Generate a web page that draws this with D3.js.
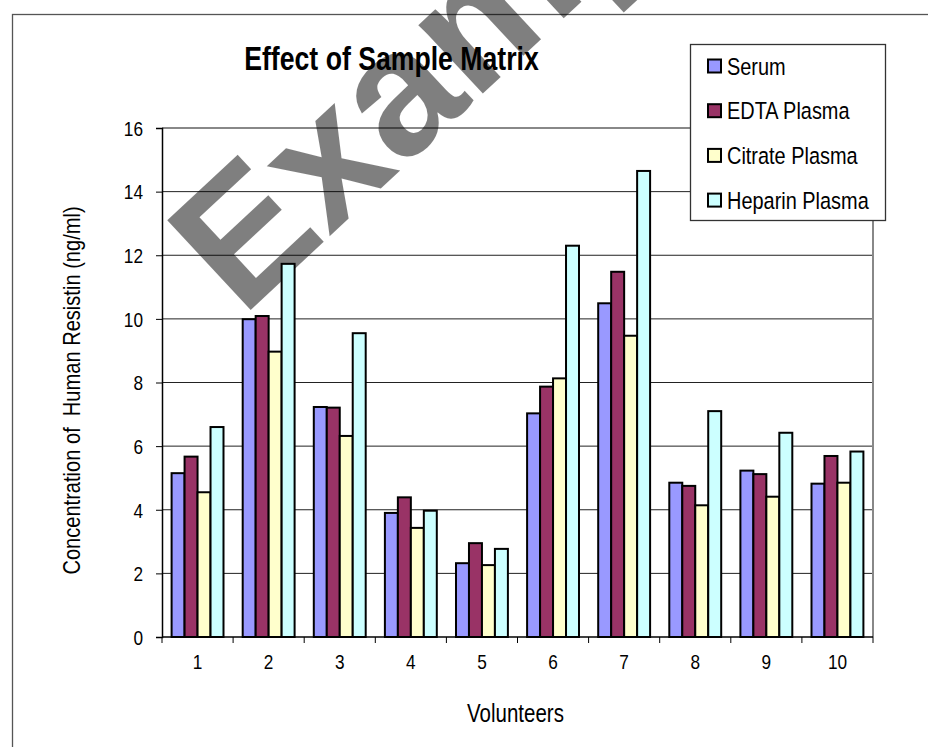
<!DOCTYPE html>
<html>
<head>
<meta charset="utf-8">
<script src="https://cdn.jsdelivr.net/npm/d3@7"></script>
<style>
  html, body { margin: 0; padding: 0; background: #fff; }
  svg { display: block; }
  text { font-family: "Liberation Sans", Arial, sans-serif; }
</style>
</head>
<body>
<svg id="chart" width="928" height="747"></svg>
<script>
// ---- data ----
const volunteers = ["1", "2", "3", "4", "5", "6", "7", "8", "9", "10"];
const seriesNames = ["Serum", "EDTA Plasma", "Citrate Plasma", "Heparin Plasma"];
const serum   = [5.15, 9.99, 7.23, 3.90, 2.32, 7.03, 10.49, 4.85, 5.23, 4.82];
const edta    = [5.67, 10.09, 7.21, 4.39, 2.95, 7.87, 11.48, 4.75, 5.12, 5.69];
const citrate = [4.55, 8.97, 6.32, 3.43, 2.26, 8.13, 9.47, 4.14, 4.41, 4.85];
const heparin = [6.60, 11.73, 9.55, 3.97, 2.77, 12.30, 14.65, 7.10, 6.42, 5.83];
const yTicks  = [0, 2, 4, 6, 8, 10, 12, 14, 16];
const colors  = ["#9999FF", "#993366", "#FFFFCC", "#CCFFFF"];

const seriesValues = [serum, edta, citrate, heparin];
const NARROW = 0.82; // emulate Arial Narrow by horizontal compression

const svg = d3.select("#chart");
const W = 928, H = 747;
const plot = { left: 162, right: 873, top: 128, bottom: 637 };

// outer chart border
svg.append("rect")
  .attr("x", 12.5).attr("y", 14.5)
  .attr("width", W + 20).attr("height", H + 20)
  .attr("fill", "#fff").attr("stroke", "#555").attr("stroke-width", 1.3);

// scales
const x = d3.scaleBand().domain(volunteers)
  .range([plot.left, plot.right]).paddingInner(0.27).paddingOuter(0.135);
const xs = d3.scaleBand().domain(seriesNames).range([0, x.bandwidth()]);
const y = d3.scaleLinear().domain([0, 16]).range([plot.bottom, plot.top]);

// gridlines
svg.append("g").selectAll("line").data(yTicks.filter(d => d > 0)).join("line")
  .attr("x1", plot.left).attr("x2", plot.right)
  .attr("y1", d => y(d)).attr("y2", d => y(d))
  .attr("stroke", d => d === 16 ? "#888" : "#222")
  .attr("stroke-width", d => d === 16 ? 2 : 1);

// right plot border
svg.append("line")
  .attr("x1", plot.right).attr("x2", plot.right)
  .attr("y1", plot.top).attr("y2", plot.bottom)
  .attr("stroke", "#888").attr("stroke-width", 2);

// watermark
svg.append("text")
  .attr("transform", "translate(242,318) rotate(-43)")
  .attr("font-weight", "bold")
  .attr("font-size", 178)
  .attr("fill", "#000").attr("fill-opacity", 0.5)
  .text("Example");

// bars
const rows = [];
volunteers.forEach((v, i) => seriesNames.forEach((s, j) => rows.push({ v, s, j, val: seriesValues[j][i] })));
svg.append("g").selectAll("rect").data(rows).join("rect")
  .attr("x", d => x(d.v) + xs(d.s))
  .attr("y", d => y(d.val))
  .attr("width", xs.bandwidth())
  .attr("height", d => y(0) - y(d.val))
  .attr("fill", d => colors[d.j])
  .attr("stroke", "#000").attr("stroke-width", 2);

// y axis
const yAxis = d3.axisLeft(y).tickValues(yTicks).tickSize(6).tickPadding(0).tickFormat(d3.format("d"));
const gy = svg.append("g").attr("transform", `translate(${plot.left},0)`).call(yAxis);
gy.select(".domain").attr("stroke", "#000").attr("stroke-width", 1.5);
gy.selectAll(".tick line").attr("stroke", "#000");
gy.selectAll(".tick text")
  .attr("x", 0).attr("dy", "0.35em")
  .attr("transform", `translate(-19,0) scale(${NARROW},1)`)
  .attr("font-size", 21).attr("fill", "#000");

// x axis
const xAxis = d3.axisBottom(x).tickSize(0).tickPadding(0);
const gx = svg.append("g").attr("transform", `translate(0,${plot.bottom})`).call(xAxis);
gx.select(".domain").attr("d", `M${plot.left},0H${plot.right}`).attr("stroke", "#000").attr("stroke-width", 1.5);
gx.selectAll(".tick text")
  .attr("y", 0).attr("dy", 0)
  .attr("transform", `translate(0,32) scale(${NARROW},1)`)
  .attr("font-size", 21).attr("fill", "#000");
// category boundary ticks
const bounds = volunteers.map(v => x(v) - x.step() * x.paddingOuter());
bounds.push(plot.right);
svg.append("g").selectAll("line").data(bounds).join("line")
  .attr("x1", d => d).attr("x2", d => d)
  .attr("y1", plot.bottom).attr("y2", plot.bottom + 6)
  .attr("stroke", "#000").attr("stroke-width", 1);

// title
svg.append("text")
  .attr("transform", `translate(391.5,70) scale(${NARROW},1)`)
  .attr("text-anchor", "middle")
  .attr("font-weight", "bold").attr("font-size", 32.5)
  .text("Effect of Sample Matrix");

// y axis title
svg.append("text")
  .attr("transform", `translate(80,390.5) rotate(-90) scale(${NARROW},1)`)
  .attr("text-anchor", "middle")
  .attr("font-size", 24.5)
  .style("white-space", "pre")
  .text("Concentration of  Human Resistin (ng/ml)");

// x axis title
svg.append("text")
  .attr("transform", `translate(515.5,722) scale(${NARROW},1)`)
  .attr("text-anchor", "middle")
  .attr("font-size", 25)
  .text("Volunteers");

// legend
const lg = svg.append("g");
lg.append("rect")
  .attr("x", 690.5).attr("y", 44.5).attr("width", 195).attr("height", 176)
  .attr("fill", "#fff").attr("stroke", "#333").attr("stroke-width", 1.3);
const li = lg.selectAll("g.item").data(seriesNames).join("g")
  .attr("class", "item")
  .attr("transform", (d, i) => `translate(708,${66 + i * 44.7})`);
li.append("rect")
  .attr("x", 0).attr("y", -6.5).attr("width", 13).attr("height", 13)
  .attr("fill", (d, i) => colors[i]).attr("stroke", "#000").attr("stroke-width", 2);
li.append("text")
  .attr("transform", `translate(19,0) scale(${NARROW},1)`)
  .attr("dy", "0.35em")
  .attr("font-size", 24.3)
  .text(d => d);
</script>
</body>
</html>
